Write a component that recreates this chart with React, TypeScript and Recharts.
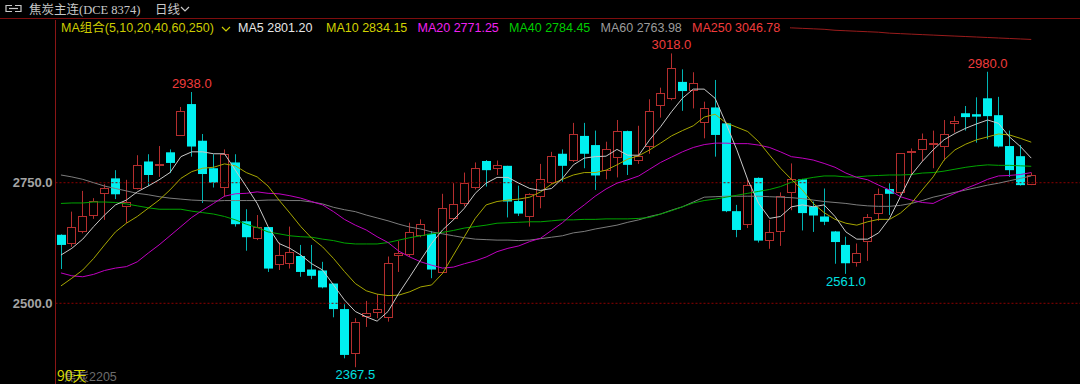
import React from 'react';
import {
  ComposedChart,
  Bar,
  Line,
  XAxis,
  YAxis,
  ReferenceLine,
  ReferenceDot,
} from 'recharts';

// 90 daily bars
const opens = [
  2642, 2622, 2648, 2681, 2726, 2759, 2699, 2736, 2794, 2785,
  2813, 2847, 2913, 2837, 2780, 2738, 2792, 2670, 2634, 2658,
  2579, 2581, 2598, 2570, 2568, 2541, 2488, 2394, 2471, 2480,
  2470, 2599, 2600, 2639, 2644, 2563, 2674, 2705, 2740, 2795,
  2778, 2785, 2712, 2678, 2720, 2749, 2810, 2795, 2847, 2828,
  2775, 2801, 2857, 2794, 2825, 2910, 2923, 2959, 2941, 2873,
  2906, 2873, 2691, 2662, 2760, 2630, 2648, 2728, 2757, 2700,
  2680, 2649, 2621, 2583, 2627, 2685, 2737, 2728, 2811, 2818,
  2830, 2825, 2871, 2894, 2892, 2925, 2890, 2826, 2805, 2746,
];
const highs = [
  2643, 2690, 2733, 2718, 2747, 2776, 2756, 2807, 2809, 2826,
  2819, 2907, 2938, 2851, 2809, 2819, 2809, 2695, 2683, 2658,
  2626, 2659, 2621, 2621, 2586, 2541, 2498, 2469, 2505, 2519,
  2597, 2629, 2667, 2674, 2650, 2727, 2749, 2771, 2792, 2797,
  2796, 2785, 2744, 2728, 2789, 2814, 2819, 2874, 2874, 2858,
  2835, 2880, 2858, 2868, 2923, 2947, 3018, 2985, 2979, 2918,
  2963, 2874, 2704, 2757, 2761, 2673, 2730, 2790, 2758, 2711,
  2738, 2650, 2638, 2624, 2685, 2738, 2749, 2811, 2821, 2852,
  2858, 2880, 2888, 2909, 2927, 2980, 2928, 2858, 2828, 2771,
];
const lows = [
  2571, 2617, 2645, 2675, 2673, 2716, 2666, 2736, 2743, 2762,
  2770, 2847, 2804, 2708, 2740, 2721, 2659, 2609, 2631, 2565,
  2569, 2572, 2555, 2550, 2531, 2471, 2386, 2367.5, 2451, 2469,
  2462, 2565, 2596, 2637, 2552, 2561, 2672, 2701, 2736, 2742,
  2766, 2678, 2681, 2659, 2697, 2747, 2752, 2793, 2780, 2735,
  2757, 2761, 2766, 2789, 2810, 2885, 2921, 2899, 2904, 2842,
  2804, 2689, 2637, 2656, 2626, 2613, 2619, 2693, 2651, 2648,
  2662, 2582, 2561, 2576, 2588, 2671, 2683, 2725, 2766, 2794,
  2780, 2796, 2854, 2858, 2833, 2840, 2823, 2762, 2744, 2745,
];
const closes = [
  2621, 2659, 2682, 2713, 2740, 2726, 2711, 2786, 2766, 2788,
  2791, 2899, 2825, 2768, 2750, 2809, 2664, 2637, 2659, 2572,
  2600, 2606, 2565, 2557, 2533, 2488, 2393, 2461, 2480, 2488,
  2583, 2604, 2647, 2664, 2570, 2697, 2705, 2749, 2781, 2776,
  2786, 2711, 2686, 2726, 2757, 2805, 2785, 2850, 2810, 2765,
  2819, 2857, 2787, 2805, 2899, 2935, 2987, 2940, 2956, 2904,
  2849, 2691, 2652, 2745, 2630, 2647, 2722, 2757, 2687, 2682,
  2669, 2627, 2583, 2605, 2678, 2726, 2727, 2811, 2816, 2840,
  2833, 2850, 2878, 2886, 2887, 2888, 2825, 2776, 2745, 2766,
];

// moving averages as drawn
const ma5 = [
  2600, 2614, 2633, 2659, 2683, 2704, 2714, 2731, 2743, 2756,
  2771, 2804, 2814, 2814, 2810, 2810, 2776, 2742, 2707, 2659,
  2624, 2614, 2600, 2582, 2569, 2538, 2507, 2483, 2472, 2463,
  2483, 2521, 2555, 2590, 2624, 2652, 2673, 2697, 2728, 2749,
  2761, 2761, 2749, 2738, 2734, 2738, 2759, 2787, 2801, 2804,
  2805, 2819, 2807, 2807, 2839, 2866, 2897, 2925, 2944, 2944,
  2925, 2873, 2818, 2756, 2707, 2676, 2680, 2700, 2704, 2700,
  2704, 2680, 2648, 2633, 2633, 2646, 2676, 2721, 2766, 2794,
  2818, 2839, 2852, 2863, 2872, 2880, 2873, 2845, 2825, 2801,
];
const ma10 = [
  2536, 2552, 2569, 2593, 2621, 2648, 2666, 2680, 2697, 2714,
  2735, 2759, 2773, 2780, 2782, 2789, 2785, 2771, 2762, 2743,
  2714, 2687, 2659, 2635, 2617, 2593, 2566, 2541, 2526, 2519,
  2516, 2517, 2524, 2534, 2538, 2562, 2600, 2638, 2676, 2704,
  2711, 2714, 2716, 2720, 2731, 2747, 2757, 2766, 2771, 2771,
  2776, 2787, 2799, 2806, 2818, 2832, 2847, 2858, 2868, 2886,
  2892, 2874, 2865, 2856, 2835, 2807, 2780, 2757, 2735, 2707,
  2688, 2674, 2666, 2662, 2669, 2674, 2674, 2687, 2707, 2735,
  2762, 2797, 2818, 2830, 2839, 2845, 2851, 2849, 2842, 2834,
];
const ma20 = [
  2563, 2557, 2555, 2560, 2568, 2573, 2576, 2586, 2604, 2621,
  2640, 2659, 2678, 2693, 2707, 2722, 2727, 2728, 2731, 2728,
  2727, 2723, 2718, 2711, 2704, 2690, 2674, 2662, 2652, 2638,
  2626, 2608, 2596, 2586, 2579, 2573, 2575, 2582, 2588, 2596,
  2607, 2614, 2619, 2628, 2635, 2651, 2667, 2687, 2704, 2722,
  2737, 2749, 2756, 2764, 2778, 2792, 2803, 2814, 2823, 2829,
  2832, 2832, 2831, 2831, 2828, 2823, 2814, 2804, 2801, 2797,
  2790, 2782, 2770, 2761, 2756, 2745, 2735, 2721, 2714, 2709,
  2707, 2718, 2728, 2738, 2747, 2757, 2764, 2765, 2767, 2771,
];
const ma40 = [
  2707, 2708, 2708, 2710, 2710, 2709, 2706, 2702, 2698, 2695,
  2695, 2695, 2691, 2688, 2685, 2680, 2673, 2664, 2657, 2648,
  2644, 2640, 2638, 2637, 2633, 2630, 2625, 2623, 2623, 2623,
  2626, 2631, 2636, 2640, 2644, 2647, 2651, 2656, 2659, 2662,
  2666, 2667, 2668, 2669, 2669, 2671, 2673, 2673, 2674, 2674,
  2675, 2675, 2675, 2676, 2678, 2685, 2692, 2700, 2708, 2713,
  2716, 2720, 2724, 2728, 2732, 2736, 2742, 2751, 2757, 2761,
  2764, 2764, 2762, 2762, 2764, 2765, 2766, 2766, 2767, 2770,
  2771, 2774, 2778, 2782, 2785, 2787, 2786, 2786, 2785, 2784,
];
const ma60 = [
  2766, 2762, 2757, 2750, 2743, 2738, 2733, 2728, 2725, 2721,
  2718, 2716, 2714, 2713, 2712, 2713, 2713, 2713, 2713, 2714,
  2714, 2713, 2713, 2710, 2706, 2699, 2694, 2690, 2683, 2677,
  2671, 2664, 2658, 2654, 2648, 2644, 2640, 2636, 2633, 2632,
  2631, 2631, 2630, 2631, 2634, 2637, 2640, 2646, 2649, 2654,
  2658, 2662, 2668, 2673, 2680, 2685, 2693, 2700, 2710, 2720,
  2721, 2722, 2722, 2722, 2722, 2721, 2720, 2719, 2717, 2714,
  2711, 2709, 2707, 2704, 2702, 2701, 2701, 2703, 2707, 2713,
  2720, 2725, 2730, 2735, 2740, 2745, 2749, 2754, 2759, 2764,
];
const ma250 = [
  3146, 3145, 3144, 3143, 3142, 3141, 3139, 3138, 3137, 3136,
  3135, 3134, 3133, 3131, 3130, 3129, 3128, 3127, 3126, 3125,
  3124, 3122, 3121, 3120, 3119, 3118, 3116, 3115, 3114, 3113,
  3112, 3111, 3110, 3108, 3107, 3106, 3105, 3104, 3102, 3101,
  3100, 3099, 3098, 3097, 3096, 3095, 3093, 3092, 3091, 3090,
  3089, 3088, 3087, 3086, 3084, 3083, 3082, 3081, 3080, 3079,
  3078, 3077, 3076, 3075, 3074, 3073, 3072, 3071, 3070, 3069,
  3068, 3066, 3065, 3064, 3063, 3062, 3060, 3059, 3058, 3057,
  3056, 3055, 3054, 3053, 3052, 3051, 3050, 3049, 3048, 3047,
];

const yTicks = [2500, 2750];

const extremes = [
  { day: 12, price: 2938.0, side: 'top' },
  { day: 56, price: 3018.0, side: 'top' },
  { day: 85, price: 2980.0, side: 'top' },
  { day: 27, price: 2367.5, side: 'bottom' },
  { day: 72, price: 2561.0, side: 'bottom' },
];

const legendItems = [
  { text: 'MA5 2801.20', x: 238, color: '#e6e6e6' },
  { text: 'MA10 2834.15', x: 326, color: '#d2d200' },
  { text: 'MA20 2771.25', x: 417.5, color: '#f020f0' },
  { text: 'MA40 2784.45', x: 509, color: '#00cc00' },
  { text: 'MA60 2763.98', x: 600.5, color: '#9c9c9c' },
  { text: 'MA250 3046.78', x: 692, color: '#f03c3c' },
];

const UP = '#b42e2e';
const DOWN = '#00f0f0';
const DOWN_WICK = '#00b4b4';

const data = opens.map((open, i) => ({
  day: i,
  open,
  high: highs[i],
  low: lows[i],
  close: closes[i],
  ma5: ma5[i],
  ma10: ma10[i],
  ma20: ma20[i],
  ma40: ma40[i],
  ma60: ma60[i],
  ma250: ma250[i],
}));

function Candle(props: any) {
  const { x, y, width, height, payload } = props;
  const { open, close, high, low } = payload;
  const k = high === low ? 0 : height / (high - low);
  const py = (v: number) => y + (high - v) * k;
  const left = Math.round(x);
  const cx = left + Math.floor(width / 2) + 0.5;
  const top = py(Math.max(open, close));
  const bot = py(Math.min(open, close));

  if (close >= open) {
    const t = Math.round(top) + 0.5;
    const b = Math.max(t + 1, Math.round(bot) - 0.5);
    return (
      <g>
        <line x1={cx} x2={cx} y1={y} y2={t} stroke={UP} />
        <line x1={cx} x2={cx} y1={b} y2={y + height} stroke={UP} />
        <rect x={left + 0.5} y={t} width={width - 1} height={b - t} fill="#000" stroke={UP} />
      </g>
    );
  }
  return (
    <g>
      <line x1={cx} x2={cx} y1={y} y2={y + height} stroke={DOWN_WICK} />
      <rect x={left} y={top} width={width} height={Math.max(1, bot - top)} fill={DOWN} />
    </g>
  );
}

function Chevron({ x, y, color }: { x: number; y: number; color: string }) {
  return (
    <polyline
      points={`${x},${y} ${x + 4},${y + 4} ${x + 8},${y}`}
      fill="none"
      stroke={color}
      strokeWidth={1.2}
    />
  );
}

export default function App() {
  return (
    <div
      style={{
        position: 'fixed',
        left: 0,
        top: 0,
        width: 1080,
        height: 384,
        background: '#000',
        overflow: 'hidden',
        fontFamily: '"Liberation Sans", "Noto Sans CJK SC", sans-serif',
      }}
    >
      <ComposedChart
        width={1080}
        height={384}
        data={data}
        margin={{ top: 20, right: 0, left: 0, bottom: 0 }}
      >
        <XAxis dataKey="day" type="category" hide padding={{ left: 0, right: 43.3 }} />
        <YAxis
          domain={[2332.7, 3087.3]}
          allowDataOverflow
          ticks={yTicks}
          width={55.5}
          tickSize={0}
          tickMargin={3}
          tickFormatter={(v: number) => v.toFixed(1)}
          tick={{ fill: '#a4a4a4', fontSize: 13, fontWeight: 'bold' }}
          axisLine={{ stroke: '#8a1616' }}
          tickLine={false}
        />
        {yTicks.map((t) => (
          <ReferenceLine key={t} y={t} stroke="#8c0000" strokeDasharray="2 2" />
        ))}

        <Line dataKey="ma250" stroke="#9a1c1c" strokeWidth={1} dot={false} isAnimationActive={false} />
        <Line dataKey="ma60" stroke="#7c7c7c" strokeWidth={1} dot={false} isAnimationActive={false} />
        <Line dataKey="ma40" stroke="#00a400" strokeWidth={1} dot={false} isAnimationActive={false} />
        <Line dataKey="ma20" stroke="#c000c0" strokeWidth={1} dot={false} isAnimationActive={false} />
        <Line dataKey="ma10" stroke="#a6a600" strokeWidth={1} dot={false} isAnimationActive={false} />
        <Line dataKey="ma5" stroke="#c8c8c8" strokeWidth={1} dot={false} isAnimationActive={false} />

        <Bar
          dataKey={(d: any) => [d.low, d.high]}
          barSize={9}
          shape={(p: any) => <Candle {...p} />}
          isAnimationActive={false}
        />

        {extremes.map((e) => (
          <ReferenceDot
            key={e.day}
            x={e.day}
            y={e.price}
            r={0}
            fill="none"
            stroke="none"
            label={{
              value: e.price.toFixed(1),
              position: e.side as any,
              offset: e.side === 'top' ? 4 : 3,
              fill: e.side === 'top' ? '#f03c3c' : '#00e0e0',
              fontSize: 13,
            }}
          />
        ))}
      </ComposedChart>

      {/* header, legend and footer text on top of the plot */}
      <svg
        width={1080}
        height={384}
        style={{ position: 'absolute', left: 0, top: 0, pointerEvents: 'none' }}
      >
        <rect x={0} y={0} width={1080} height={18.5} fill="#000" />
        <line x1={0} x2={1080} y1={18.5} y2={18.5} stroke="#7e0e0e" />

        <g stroke="#c8c8c8" strokeWidth={1.2} fill="none">
          <polyline points="12,5.5 6,5.5 6,11.5 12,11.5" />
          <polyline points="15,5.5 21,5.5 21,11.5 15,11.5" />
          <line x1={9} x2={18} y1={8.5} y2={8.5} />
        </g>
        <text x={29} y={14} fill="#c8c8c8" fontSize={12.5} fontFamily='"Noto Sans CJK SC"'>
          焦炭主连
          <tspan fontFamily='"Liberation Serif"' fontSize={12.5}>(DCE 8374)</tspan>
        </text>
        <text x={155} y={14} fill="#c8c8c8" fontSize={12.5} fontFamily='"Noto Sans CJK SC"'>
          日线
        </text>
        <Chevron x={181} y={7} color="#c8c8c8" />

        <rect x={56} y={19} width={734} height={17} fill="#000" />
        <text x={61} y={32.3} fill="#cccc00" fontSize={12.5}>
          MA组合(5,10,20,40,60,250)
        </text>
        <Chevron x={222} y={27} color="#cccc00" />
        {legendItems.map((item) => (
          <text key={item.text} x={item.x} y={32.3} fill={item.color} fontSize={12.5}>
            {item.text}
          </text>
        ))}

        <text x={64} y={381} fill="#6c6c6c" fontSize={12.5} fontFamily='"Noto Sans CJK SC"'>
          焦炭<tspan fontFamily='"Liberation Sans"'>2205</tspan>
        </text>
        <text x={57} y={381} fill="#d8d800" fontSize={14} fontFamily='"Noto Sans CJK SC"'>
          90天
        </text>
      </svg>
    </div>
  );
}
